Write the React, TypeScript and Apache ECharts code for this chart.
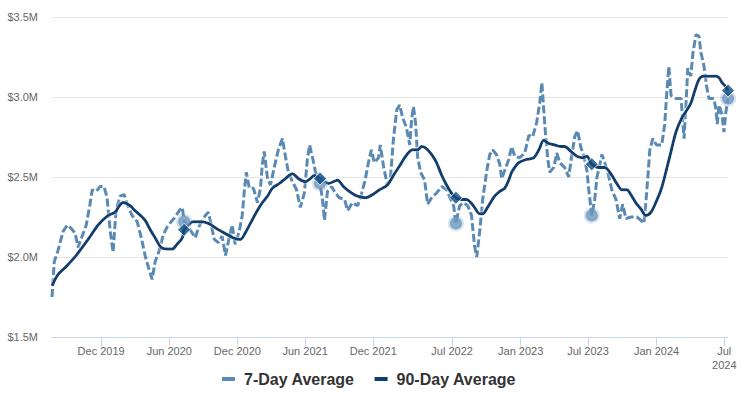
import React, { useEffect, useRef } from "react";
import * as echarts from "echarts";

const dates7 = [
  "2019-07-22","2019-07-28","2019-08-07","2019-08-21","2019-09-01","2019-09-11","2019-09-22","2019-09-30","2019-10-11","2019-10-22",
  "2019-11-01","2019-11-07","2019-11-18","2019-11-28","2019-12-09","2019-12-17","2019-12-25","2020-01-02","2020-01-10","2020-01-21",
  "2020-02-01","2020-02-09","2020-02-22","2020-03-07","2020-03-18","2020-03-28","2020-04-08","2020-04-16","2020-04-24","2020-05-05",
  "2020-05-16","2020-05-27","2020-06-06","2020-06-17","2020-06-28","2020-07-06","2020-07-11","2020-07-20","2020-07-27","2020-08-10",
  "2020-08-18","2020-08-26","2020-09-06","2020-09-14","2020-09-22","2020-09-30","2020-10-11","2020-10-21","2020-10-30","2020-11-09",
  "2020-11-17","2020-11-25","2020-12-06","2020-12-14","2020-12-20","2020-12-25","2021-01-02","2021-01-13","2021-01-24","2021-02-01",
  "2021-02-06","2021-02-11","2021-02-20","2021-02-28","2021-03-10","2021-03-21","2021-04-01","2021-04-09","2021-04-17","2021-04-28",
  "2021-05-09","2021-05-19","2021-05-30","2021-06-07","2021-06-13","2021-06-21","2021-06-29","2021-07-11","2021-07-17","2021-07-23",
  "2021-07-31","2021-08-11","2021-08-21","2021-09-01","2021-09-15","2021-09-23","2021-10-06","2021-10-20","2021-10-30","2021-11-10",
  "2021-11-18","2021-11-26","2021-12-04","2021-12-15","2021-12-20","2021-12-29","2022-01-08","2022-01-16","2022-01-24","2022-02-02",
  "2022-02-10","2022-02-18","2022-02-28","2022-03-09","2022-03-14","2022-03-19","2022-03-25","2022-03-30","2022-04-07","2022-04-18",
  "2022-04-26","2022-05-07","2022-05-20","2022-06-03","2022-06-16","2022-06-27","2022-07-05","2022-07-11","2022-07-21","2022-08-01",
  "2022-08-12","2022-08-22","2022-08-30","2022-09-05","2022-09-13","2022-09-21","2022-10-02","2022-10-10","2022-10-18","2022-10-28",
  "2022-11-06","2022-11-11","2022-11-19","2022-11-30","2022-12-08","2022-12-16","2022-12-29","2023-01-12","2023-01-23","2023-02-02",
  "2023-02-13","2023-02-21","2023-02-27","2023-03-04","2023-03-09","2023-03-15","2023-03-20","2023-03-31","2023-04-08","2023-04-16",
  "2023-04-29","2023-05-10","2023-05-18","2023-05-26","2023-06-03","2023-06-11","2023-06-20","2023-06-28","2023-07-03","2023-07-11",
  "2023-07-19","2023-07-25","2023-08-02","2023-08-07","2023-08-15","2023-08-26","2023-09-03","2023-09-14","2023-09-24","2023-10-02",
  "2023-10-11","2023-10-24","2023-11-09","2023-11-20","2023-11-28","2023-12-03","2023-12-09","2023-12-14","2023-12-22","2024-01-01",
  "2024-01-15","2024-01-23","2024-01-28","2024-02-03","2024-02-09","2024-02-22","2024-03-07","2024-03-15","2024-03-20","2024-03-25",
  "2024-04-02","2024-04-08","2024-04-16","2024-04-24","2024-04-29","2024-05-07","2024-05-15","2024-05-21","2024-06-03","2024-06-09",
  "2024-06-12","2024-06-17","2024-06-25","2024-06-30","2024-07-05","2024-07-11"
];
const values7 = [
  1.75,1.97,2.04,2.16,2.20,2.18,2.15,2.06,2.13,2.20,
  2.33,2.42,2.41,2.44,2.44,2.37,2.17,2.03,2.29,2.38,
  2.39,2.33,2.26,2.22,2.12,2.01,1.92,1.86,1.97,2.04,
  2.14,2.19,2.22,2.25,2.29,2.31,2.22,2.19,2.17,2.12,
  2.18,2.22,2.26,2.28,2.20,2.11,2.09,2.13,2.01,2.12,
  2.20,2.08,2.16,2.26,2.42,2.53,2.43,2.43,2.34,2.43,
  2.58,2.66,2.49,2.45,2.56,2.67,2.74,2.63,2.53,2.47,
  2.42,2.31,2.40,2.61,2.70,2.62,2.53,2.46,2.37,2.23,
  2.41,2.44,2.40,2.37,2.36,2.29,2.34,2.32,2.39,2.49,
  2.59,2.67,2.59,2.62,2.70,2.56,2.45,2.49,2.73,2.92,
  2.95,2.87,2.81,2.70,2.86,2.94,2.83,2.63,2.53,2.48,
  2.33,2.37,2.40,2.44,2.42,2.36,2.32,2.21,2.32,2.34,
  2.32,2.26,2.07,2.00,2.16,2.36,2.54,2.64,2.67,2.64,
  2.58,2.49,2.54,2.61,2.69,2.63,2.62,2.65,2.76,2.75,
  2.84,2.96,3.09,2.92,2.76,2.61,2.53,2.56,2.65,2.59,
  2.56,2.50,2.63,2.75,2.79,2.69,2.63,2.54,2.42,2.26,
  2.36,2.50,2.58,2.64,2.59,2.50,2.42,2.36,2.24,2.33,
  2.24,2.25,2.25,2.23,2.21,2.33,2.51,2.67,2.74,2.70,
  2.70,2.83,3.01,3.19,3.01,2.99,2.99,2.74,2.95,3.18,
  3.13,3.28,3.39,3.38,3.28,3.20,3.06,2.99,2.99,2.92,
  2.83,2.95,2.89,2.78,2.90,2.99
];

const dates90 = [
  "2019-07-22","2019-08-07","2019-08-29","2019-09-25","2019-10-27","2019-11-23","2019-12-20","2020-01-08","2020-01-16","2020-01-29",
  "2020-02-17","2020-03-01","2020-03-28","2020-04-11","2020-04-24","2020-05-10","2020-05-27","2020-06-09","2020-06-22","2020-07-06",
  "2020-07-11","2020-07-27","2020-08-04","2020-08-23","2020-09-14","2020-10-11","2020-11-04","2020-11-20","2020-12-09","2020-12-22",
  "2021-01-05","2021-01-21","2021-02-06","2021-02-20","2021-03-05","2021-03-24","2021-04-09","2021-04-28","2021-05-14","2021-06-02",
  "2021-06-15","2021-06-26","2021-07-11","2021-08-03","2021-08-27","2021-09-12","2021-09-28","2021-10-20","2021-11-10","2021-11-29",
  "2021-12-18","2022-01-08","2022-01-27","2022-02-10","2022-02-23","2022-03-09","2022-03-17","2022-03-30","2022-04-10","2022-04-21",
  "2022-05-07","2022-05-20","2022-06-03","2022-06-16","2022-06-29","2022-07-11","2022-07-26","2022-08-09","2022-08-20","2022-08-30",
  "2022-09-13","2022-09-21","2022-10-04","2022-10-23","2022-11-06","2022-11-19","2022-11-30","2022-12-08","2022-12-19","2022-12-27",
  "2023-01-17","2023-02-05","2023-02-19","2023-03-04","2023-03-17","2023-04-03","2023-04-19","2023-04-29","2023-05-16","2023-06-01",
  "2023-06-17","2023-06-28","2023-07-11","2023-07-30","2023-08-15","2023-09-03","2023-09-16","2023-09-30","2023-10-13","2023-10-24",
  "2023-11-06","2023-11-20","2023-12-03","2023-12-17","2023-12-30","2024-01-13","2024-01-26","2024-02-09","2024-02-22","2024-03-09",
  "2024-03-23","2024-04-02","2024-04-13","2024-04-24","2024-05-05","2024-05-27","2024-06-09","2024-06-17","2024-06-25","2024-07-03",
  "2024-07-11"
];
const values90 = [
  1.82,1.89,1.94,2.01,2.11,2.20,2.26,2.28,2.31,2.34,
  2.32,2.29,2.23,2.17,2.12,2.06,2.05,2.05,2.08,2.12,
  2.17,2.21,2.22,2.22,2.21,2.17,2.14,2.12,2.11,2.15,
  2.21,2.28,2.34,2.38,2.43,2.46,2.49,2.52,2.49,2.47,
  2.49,2.51,2.49,2.46,2.48,2.44,2.41,2.38,2.37,2.39,
  2.42,2.45,2.52,2.57,2.62,2.66,2.67,2.67,2.69,2.68,
  2.64,2.59,2.51,2.45,2.40,2.37,2.36,2.36,2.34,2.31,
  2.27,2.27,2.31,2.38,2.41,2.43,2.48,2.53,2.57,2.59,
  2.61,2.62,2.67,2.73,2.71,2.70,2.69,2.69,2.66,2.63,
  2.62,2.63,2.58,2.56,2.56,2.51,2.46,2.42,2.42,2.39,
  2.34,2.30,2.26,2.28,2.34,2.42,2.53,2.66,2.78,2.87,
  2.92,2.96,3.04,3.11,3.13,3.13,3.13,3.12,3.09,3.07,
  3.04
];

const markerDates = ["2020-07-11", "2021-07-11", "2022-07-11", "2023-07-11", "2024-07-11"];
const marker7 = [2.22, 2.46, 2.21, 2.26, 2.99];
const marker90 = [2.17, 2.49, 2.37, 2.58, 3.04];

const tickDates = ["2019-12-01","2020-06-01","2020-12-01","2021-06-01","2021-12-01","2022-07-01","2023-01-01","2023-07-01","2024-01-01","2024-07-01"];
const tickLabels = ["Dec 2019","Jun 2020","Dec 2020","Jun 2021","Dec 2021","Jul 2022","Jan 2023","Jul 2023","Jan 2024","Jul\n2024"];

const FONT = "'Liberation Sans', Arial, sans-serif";
const C7 = "#5a8ab3";
const C90 = "#0c3f70";

function ts(s: string): number {
  const [y, m, d] = s.split("-").map(Number);
  return Date.UTC(y, m - 1, d);
}

export default function App() {
  const ref = useRef<HTMLDivElement>(null);
  useEffect(() => {
    document.body.style.margin = "0";
    if (!ref.current) return;
    const chart = echarts.init(ref.current, undefined, { renderer: "svg" });
    const tickTs = tickDates.map(ts);
    chart.setOption({
      animation: false,
      textStyle: { fontFamily: FONT },
      grid: { left: 52, right: 22, top: 17, bottom: 58 },
      legend: {
        data: ["7-Day Average", "90-Day Average"],
        left: 217,
        top: 366,
        icon: "rect",
        itemWidth: 13,
        itemHeight: 4,
        itemGap: 20,
        textStyle: { fontFamily: FONT, fontSize: 16, fontWeight: "bold", color: "#333", padding: [0, 0, 0, 4] },
      },
      xAxis: {
        type: "value",
        min: ts("2019-07-22"),
        max: ts("2024-07-11"),
        axisLine: { lineStyle: { color: "#ccd6eb", width: 1 } },
        axisTick: { show: true, length: 9, lineStyle: { color: "#ccd6eb" }, customValues: tickTs },
        axisLabel: {
          customValues: tickTs,
          color: "#666",
          fontSize: 11,
          fontFamily: FONT,
          margin: 7,
          hideOverlap: false,
          lineHeight: 14,
          formatter: (v: number) => {
            const i = tickTs.indexOf(v);
            return i >= 0 ? tickLabels[i] : "";
          },
        },
        splitLine: { show: false },
      },
      yAxis: {
        type: "value",
        min: 1.5,
        max: 3.5,
        interval: 0.5,
        axisLine: { show: false },
        axisTick: { show: false },
        splitLine: { lineStyle: { color: "#e6e6e6", width: 1 } },
        axisLabel: {
          color: "#666",
          fontSize: 11,
          fontFamily: FONT,
          margin: 14,
          formatter: (v: number) => `$${v.toFixed(1)}M`,
        },
      },
      series: [
        {
          name: "7-Day Average",
          type: "line",
          data: dates7.map((d, i) => [ts(d), values7[i]]),
          showSymbol: false,
          symbol: "none",
          itemStyle: { color: C7 },
          lineStyle: { color: C7, width: 3, type: [8, 3] },
          z: 2,
        },
        {
          name: "90-Day Average",
          type: "line",
          data: dates90.map((d, i) => [ts(d), values90[i]]),
          showSymbol: false,
          symbol: "none",
          smooth: 0.3,
          itemStyle: { color: C90 },
          lineStyle: { color: C90, width: 3, shadowColor: "rgba(255,255,255,0.9)", shadowBlur: 3 },
          z: 3,
        },
        {
          name: "7-Day marker",
          type: "scatter",
          data: markerDates.map((d, i) => [ts(d), marker7[i]]),
          symbol: "circle",
          symbolSize: 12,
          itemStyle: { color: "#6b97bd", borderColor: "rgba(107,151,189,0.35)", borderWidth: 4 },
          z: 4,
        },
        {
          name: "90-Day marker",
          type: "scatter",
          data: markerDates.map((d, i) => [ts(d), marker90[i]]),
          symbol: "diamond",
          symbolSize: 13,
          itemStyle: { color: "#0f4a80", borderColor: "#ffffff", borderWidth: 1 },
          z: 5,
        },
      ],
    });
    return () => chart.dispose();
  }, []);
  return <div ref={ref} style={{ width: 750, height: 395 }} />;
}
